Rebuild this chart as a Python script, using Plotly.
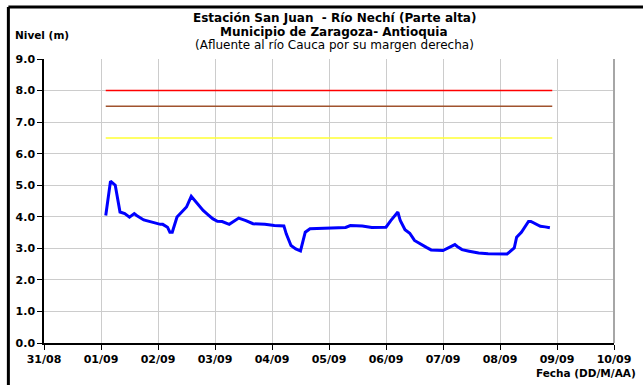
import plotly.graph_objects as go

# Nivel del río (m)
fechas = [
    "2010-09-01 02:00", "2010-09-01 03:00", "2010-09-01 04:00", "2010-09-01 06:00",
    "2010-09-01 08:00", "2010-09-01 10:00", "2010-09-01 12:00", "2010-09-01 14:00",
    "2010-09-01 15:00", "2010-09-01 18:00", "2010-09-01 21:00", "2010-09-02 01:00",
    "2010-09-02 02:00", "2010-09-02 04:00", "2010-09-02 05:00", "2010-09-02 06:00",
    "2010-09-02 08:00", "2010-09-02 10:00", "2010-09-02 12:00", "2010-09-02 14:00",
    "2010-09-02 16:00", "2010-09-02 19:00", "2010-09-02 21:00", "2010-09-02 23:00",
    "2010-09-03 01:00", "2010-09-03 03:00", "2010-09-03 06:00", "2010-09-03 10:00",
    "2010-09-03 13:00", "2010-09-03 16:00", "2010-09-03 21:00", "2010-09-04 01:00",
    "2010-09-04 05:00", "2010-09-04 06:00", "2010-09-04 08:00", "2010-09-04 10:00",
    "2010-09-04 12:00", "2010-09-04 14:00", "2010-09-04 16:00", "2010-09-04 21:00",
    "2010-09-05 03:00", "2010-09-05 07:00", "2010-09-05 09:00", "2010-09-05 14:00",
    "2010-09-05 18:00", "2010-09-06 00:00", "2010-09-06 02:00", "2010-09-06 04:00",
    "2010-09-06 05:00", "2010-09-06 06:00", "2010-09-06 08:00", "2010-09-06 10:00",
    "2010-09-06 12:00", "2010-09-06 17:00", "2010-09-06 19:00", "2010-09-07 00:00",
    "2010-09-07 03:00", "2010-09-07 05:00", "2010-09-07 06:00", "2010-09-07 08:00",
    "2010-09-07 11:00", "2010-09-07 15:00", "2010-09-07 19:00", "2010-09-07 23:00",
    "2010-09-08 03:00", "2010-09-08 06:00", "2010-09-08 07:00", "2010-09-08 09:00",
    "2010-09-08 10:00", "2010-09-08 12:00", "2010-09-08 13:00", "2010-09-08 17:00",
    "2010-09-08 19:00", "2010-09-08 21:00",
]
nivel = [
    4.04, 4.68, 5.13, 5.00, 4.15, 4.10, 3.99, 4.10, 4.04, 3.90,
    3.83, 3.76, 3.76, 3.67, 3.51, 3.51, 3.99, 4.15, 4.31, 4.65,
    4.46, 4.20, 4.07, 3.94, 3.86, 3.85, 3.76, 3.96, 3.88, 3.78,
    3.76, 3.72, 3.71, 3.46, 3.09, 2.98, 2.92, 3.51, 3.62, 3.64,
    3.65, 3.66, 3.72, 3.71, 3.66, 3.67, 3.88, 4.04, 4.15, 3.88,
    3.59, 3.48, 3.25, 3.03, 2.95, 2.93, 3.03, 3.12, 3.06, 2.96,
    2.91, 2.85, 2.83, 2.83, 2.82, 3.01, 3.35, 3.51, 3.62, 3.85,
    3.85, 3.70, 3.68, 3.65,
]

# Umbrales de alerta
umbral_fechas = ["2010-09-01 02:00", "2010-09-08 22:00"]
umbral_rojo = 8.0
umbral_naranja = 7.5
umbral_amarillo = 6.5

x_rango = ["2010-08-31", "2010-09-10"]
y_ticks = [0, 1, 2, 3, 4, 5, 6, 7, 8, 9]

FONT = "'DejaVu Sans', Arial, sans-serif"

fig = go.Figure()
for val, col in [(umbral_rojo, "#FF0000"), (umbral_naranja, "#A0522D"),
                 (umbral_amarillo, "#FFFF33")]:
    fig.add_trace(go.Scatter(
        x=umbral_fechas, y=[val, val], mode="lines",
        line=dict(color=col, width=1.5), showlegend=False, hoverinfo="skip",
    ))

fig.add_trace(go.Scatter(
    x=fechas, y=nivel, mode="lines",
    line=dict(color="#0000FF", width=3), showlegend=False,
))

# marco exterior: solo los bordes izquierdo y superior quedan a la vista
marco = dict(color="black", width=3)

fig.update_layout(
    width=643, height=385,
    margin=dict(l=44, r=27, t=59, b=42),
    plot_bgcolor="white", paper_bgcolor="white",
    font=dict(family=FONT, color="black", size=11),
    xaxis=dict(
        type="date", range=x_rango, dtick=86400000, tickformat="%d/%m",
        showgrid=True, gridcolor="#CCCCCC", gridwidth=1,
        showline=True, linecolor="black", linewidth=1.5,
        ticks="outside", ticklen=5, tickcolor="black",
        tickfont=dict(family=FONT, size=11, color="black", weight="bold"),
        zeroline=False,
    ),
    yaxis=dict(
        range=[0, 9], tickvals=y_ticks, tickformat=".1f",
        showgrid=True, gridcolor="#CCCCCC", gridwidth=1,
        showline=True, linecolor="black", linewidth=1.5,
        ticks="outside", ticklen=5, tickcolor="black",
        tickfont=dict(family=FONT, size=11, color="black", weight="bold"),
        zeroline=False,
    ),
    shapes=[
        dict(type="line", xref="paper", yref="paper", x0=1, x1=1, y0=0, y1=1,
             line=dict(color="#A6A6A6", width=2)),
        dict(type="line", xref="paper", yref="paper", x0=-0.0625, x1=-0.0625,
             y0=-0.35, y1=1.183, line=marco, layer="above"),
        dict(type="line", xref="paper", yref="paper", x0=-0.0625, x1=1.2,
             y0=1.183, y1=1.183, line=marco, layer="above"),
    ],
    annotations=[
        dict(text="<b>Estación San Juan  - Río Nechí (Parte alta)</b>",
             xref="paper", yref="paper", x=0.509, y=1.145, showarrow=False,
             xanchor="center", yanchor="middle", font=dict(size=12)),
        dict(text="<b>Municipio de Zaragoza- Antioquia</b>",
             xref="paper", yref="paper", x=0.509, y=1.095, showarrow=False,
             xanchor="center", yanchor="middle", font=dict(size=12)),
        dict(text="(Afluente al río Cauca por su margen derecha)",
             xref="paper", yref="paper", x=0.509, y=1.049, showarrow=False,
             xanchor="center", yanchor="middle", font=dict(size=12)),
        dict(text="<b>Nivel (m)</b>",
             xref="paper", yref="paper", x=-0.055, y=1.085, showarrow=False,
             xanchor="left", yanchor="middle", font=dict(size=10.5)),
        dict(text="<b>Fecha (DD/M/AA)</b>",
             xref="paper", yref="paper", x=1.042, y=-0.104, showarrow=False,
             xanchor="right", yanchor="middle", font=dict(size=10.5)),
    ],
)

fig.write_html(
    "out.html", config={"displayModeBar": False},
    post_script=("document.body.style.margin='0';"
                 "document.body.style.overflow='hidden';"
                 "document.documentElement.style.overflow='hidden';"),
)
